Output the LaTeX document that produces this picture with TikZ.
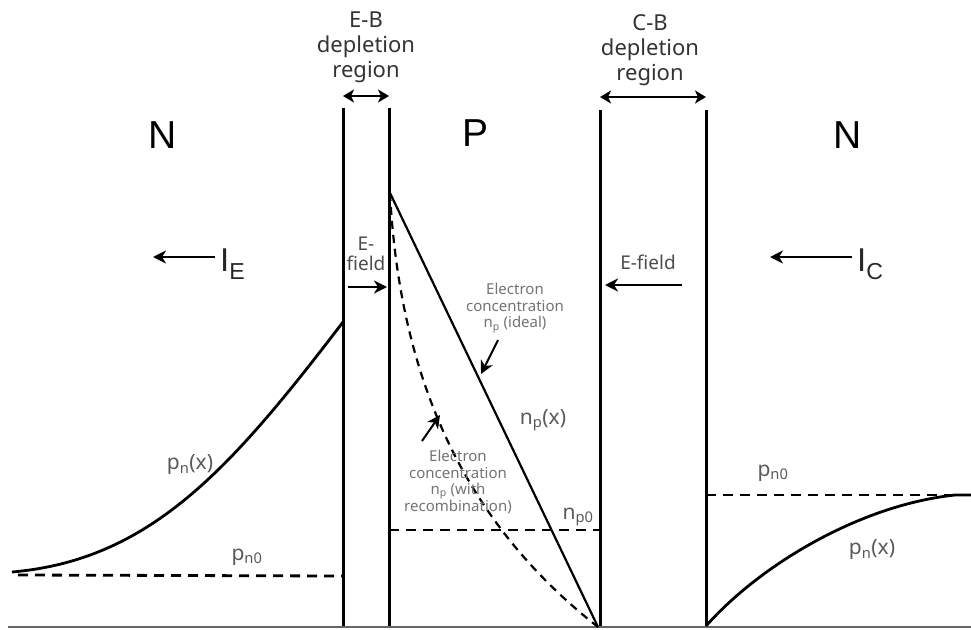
\documentclass[tikz,border=0pt]{standalone}
\usepackage{fontspec}
\setmainfont{Noto Sans}
\newfontfamily\helv{Liberation Sans}
\usetikzlibrary{arrows.meta}
\begin{document}
\begin{tikzpicture}[x=1pt,y=-1pt,
 wall/.style={line width=3pt},
 curve/.style={line width=2.8pt},
 dashline/.style={line width=2.8pt, dash pattern=on 10pt off 7pt},
 arr/.style={line width=2.2pt,-{Stealth[length=13pt,width=13pt,inset=4pt]}},
 darr/.style={line width=2.8pt,{Stealth[length=11pt,width=13pt,inset=3pt]}-{Stealth[length=11pt,width=13pt,inset=3pt]}},
 head/.style={font=\fontsize{22}{25}\selectfont, text=black!80, align=center, inner sep=0},
 big/.style={font=\helv\fontsize{39}{40}\selectfont, inner sep=0},
 cur/.style={font=\helv\fontsize{33}{34}\selectfont, inner sep=0, text=black!85},
 fld/.style={font=\fontsize{19}{20}\selectfont, text=black!70, align=center, inner sep=0},
 lbl/.style={font=\fontsize{21}{22}\selectfont, text=black!65, inner sep=0},
 small/.style={font=\fontsize{15}{16.5}\selectfont, text=black!55, align=center, inner sep=0}]
\useasboundingbox (0,0) rectangle (971,629);

% walls
\coordinate (at) at (343,108); \coordinate (ab) at (343,627);
\coordinate (bt) at (389,108); \coordinate (bb) at (389,627);
\coordinate (ct) at (600,110); \coordinate (cb) at (600,627);
\coordinate (dt) at (706,110); \coordinate (db) at (706,627);
\draw[wall] (at) -- (ab);
\draw[wall] (bt) -- (bb);
\draw[wall] (ct) -- (cb);
\draw[wall] (dt) -- (db);

% axis
\coordinate (ax1) at (8,627); \coordinate (ax2) at (971,627);
\draw[line width=2.4pt, black!60] (ax1) -- (ax2);

% headers
\node[head] (ebt) at (366,47) {E-B\\depletion\\region};
\node[head] (cbt) at (650,50) {C-B\\depletion\\region};
\coordinate (eba1) at (343,96); \coordinate (eba2) at (389,96);
\coordinate (cba1) at (600,97); \coordinate (cba2) at (706,97);
\draw[darr] (eba1) -- (eba2);
\draw[darr] (cba1) -- (cba2);

% region letters
\node[big] (nl) at (163,135) {N};
\node[big] (pm) at (475,133) {P};
\node[big] (nr) at (848,135) {N};

% currents
\node[cur, anchor=west] (ie) at (220,264) {I\textsubscript{E}};
\coordinate (ie1) at (215,257); \coordinate (ie2) at (153,257);
\draw[arr] (ie1) -- (ie2);
\node[cur, anchor=west] (ic) at (857,264) {I\textsubscript{C}};
\coordinate (ic1) at (852,257); \coordinate (ic2) at (770,257);
\draw[arr] (ic1) -- (ic2);

% E-fields
\node[fld] (ef1) at (366,254) {E-\\field};
\coordinate (ef1a) at (348,287); \coordinate (ef1b) at (387,287);
\draw[arr] (ef1a) -- (ef1b);
\node[fld] (ef2) at (648,262) {E-field};
\coordinate (ef2a) at (682,285); \coordinate (ef2b) at (605,285);
\draw[arr] (ef2a) -- (ef2b);

% P region curves
\coordinate (ptop) at (390,193); \coordinate (pbot) at (598,627);
\draw[curve, line width=2.2pt] (ptop) -- (pbot);
\draw[dashline, line width=2.2pt, dash pattern=on 8pt off 6pt] (ptop) .. controls (400,385) and (468,525) .. (pbot);
\coordinate (np0a) at (389,530); \coordinate (np0b) at (600,530);
\draw[dashline] (np0a) -- (np0b);
\node[lbl] (npx) at (543,420) {n\textsubscript{p}(x)};
\node[lbl] (np0) at (578,517) {n\textsubscript{p0}};

\node[small] (ideal) at (515,308) {Electron\\concentration\\n\textsubscript{p} (ideal)};
\coordinate (ia1) at (498,340); \coordinate (ia2) at (481,374);
\draw[arr, line width=2pt] (ia1) -- (ia2);
\node[small] (recomb) at (458,482) {Electron\\concentration\\n\textsubscript{p} (with\\recombination)};
\coordinate (ra1) at (422,441); \coordinate (ra2) at (440,415);
\draw[arr, line width=2pt] (ra1) -- (ra2);

% left N region
\coordinate (lc1) at (12,572); \coordinate (lc2) at (343,322);
\draw[curve] (lc1) .. controls (150,560) and (230,470) .. (lc2);
\coordinate (lp1) at (18,575); \coordinate (lp2) at (343,576);
\draw[dashline] (lp1) -- (lp2);
\node[lbl] (lpnx) at (190,465) {p\textsubscript{n}(x)};
\node[lbl] (lpn0) at (247,557) {p\textsubscript{n0}};

% right N region
\coordinate (rc1) at (706,626); \coordinate (rc2) at (955,495); \coordinate (rc3) at (971,495);
\draw[curve] (rc1) .. controls (760,565) and (860,505) .. (rc2) -- (rc3);
\coordinate (rp1) at (706,495);
\draw[dashline] (rp1) -- (rc2);
\node[lbl] (rpnx) at (872,550) {p\textsubscript{n}(x)};
\node[lbl] (rpn0) at (773,473) {p\textsubscript{n0}};
\end{tikzpicture}
\end{document}
